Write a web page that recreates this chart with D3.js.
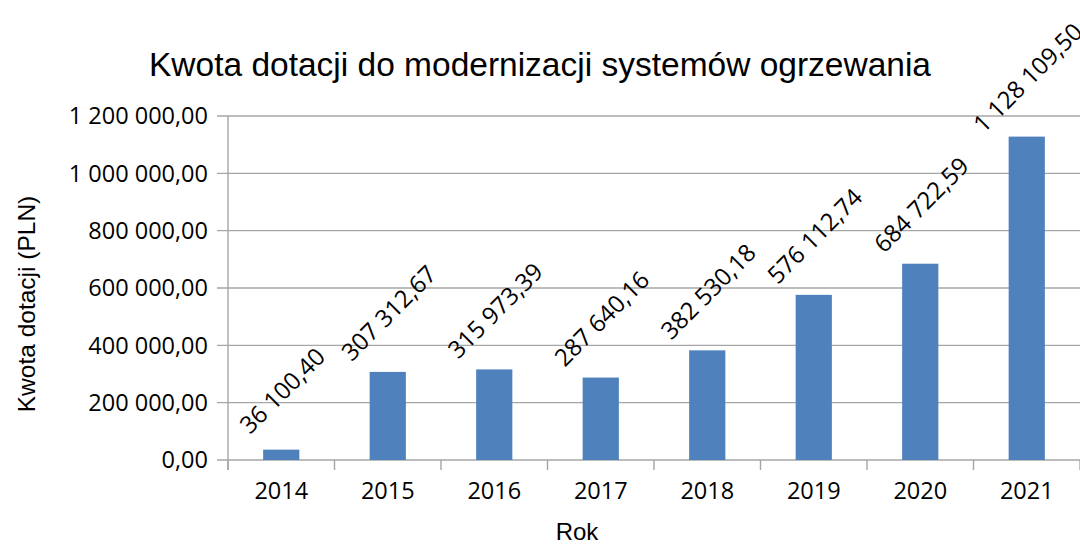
<!DOCTYPE html>
<html><head><meta charset="utf-8">
<script src="https://cdn.jsdelivr.net/npm/d3@7"></script>
<style>body{margin:0;background:#fff}svg{display:block}</style>
</head><body><svg id="c" width="1080" height="544"></svg>
<script>
const categories = ["2014","2015","2016","2017","2018","2019","2020","2021"];
const values = [36100.40, 307312.67, 315973.39, 287640.16, 382530.18, 576112.74, 684722.59, 1128109.50];
const yTicks = [0, 200000, 400000, 600000, 800000, 1000000, 1200000];
const title = "Kwota dotacji do modernizacji systemów ogrzewania";
const xTitle = "Rok";
const yTitle = "Kwota dotacji (PLN)";

const svg = d3.select("#c");
const W = 1080, H = 544;
const m = {l: 228, r: 0, t: 116, b: 84};
const x = d3.scaleBand().domain(categories).range([m.l, W - m.r]).paddingInner(0.66).paddingOuter(0.33);
const y = d3.scaleLinear().domain([0, 1200000]).range([H - m.b, m.t]);
const fmt = v => {
  const s = v.toFixed(2).split(".");
  return s[0].replace(/\B(?=(\d{3})+(?!\d))/g, " ") + "," + s[1];
};
const numFont = "'Open Sans', 'Noto Sans', sans-serif";
const txtFont = "'Liberation Sans', Arial, sans-serif";
const grid = "#a6a6a6";

// gridlines
svg.append("g").selectAll("line").data(yTicks).join("line")
  .attr("x1", m.l - 11).attr("x2", W).attr("y1", d => y(d)).attr("y2", d => y(d))
  .attr("stroke", grid).attr("stroke-width", 1.4);

// y axis line
svg.append("line").attr("x1", m.l).attr("x2", m.l).attr("y1", y(1200000)).attr("y2", y(0) + 10)
  .attr("stroke", grid).attr("stroke-width", 1.4);

// x ticks (category boundaries)
const step = x.step();
svg.append("g").selectAll("line").data(d3.range(categories.length + 1)).join("line")
  .attr("x1", i => m.l + i * step).attr("x2", i => m.l + i * step)
  .attr("y1", y(0)).attr("y2", y(0) + 10)
  .attr("stroke", grid).attr("stroke-width", 1.4);

// y tick labels
svg.append("g").selectAll("text").data(yTicks).join("text")
  .attr("x", m.l - 20).attr("y", d => y(d)).attr("dy", "0.36em")
  .attr("text-anchor", "end").attr("font-family", numFont).attr("font-size", 23.5).attr("fill", "#000")
  .text(fmt);

// bars
svg.append("g").selectAll("rect").data(values).join("rect")
  .attr("x", (d, i) => x(categories[i])).attr("width", x.bandwidth())
  .attr("y", d => y(d)).attr("height", d => y(0) - y(d))
  .attr("fill", "#4f81bd");

// x labels
svg.append("g").selectAll("text").data(categories).join("text")
  .attr("x", d => x(d) + x.bandwidth() / 2).attr("y", 499)
  .attr("text-anchor", "middle").attr("font-family", numFont).attr("font-size", 23.5).attr("fill", "#000")
  .text(d => d);

// data labels
svg.append("g").selectAll("text").data(values).join("text")
  .attr("transform", (d, i) => `translate(${x(categories[i]) + x.bandwidth() / 2 + 1},${y(d) - 59}) rotate(-45)`)
  .attr("text-anchor", "middle").attr("dy", "0.36em")
  .attr("font-family", numFont).attr("font-size", 24).attr("fill", "#000")
  .text(fmt);

// title
svg.append("text").attr("x", 540).attr("y", 76).attr("text-anchor", "middle")
  .attr("font-family", txtFont).attr("font-size", 33.5).attr("fill", "#000")
  .text(title);

// axis titles
svg.append("text").attr("x", 577).attr("y", 540).attr("text-anchor", "middle")
  .attr("font-family", txtFont).attr("font-size", 24).attr("fill", "#000")
  .text(xTitle);
svg.append("text").attr("transform", "translate(35,304) rotate(-90)").attr("text-anchor", "middle")
  .attr("font-family", txtFont).attr("font-size", 24.5).attr("fill", "#000")
  .text(yTitle);
</script></body></html>
